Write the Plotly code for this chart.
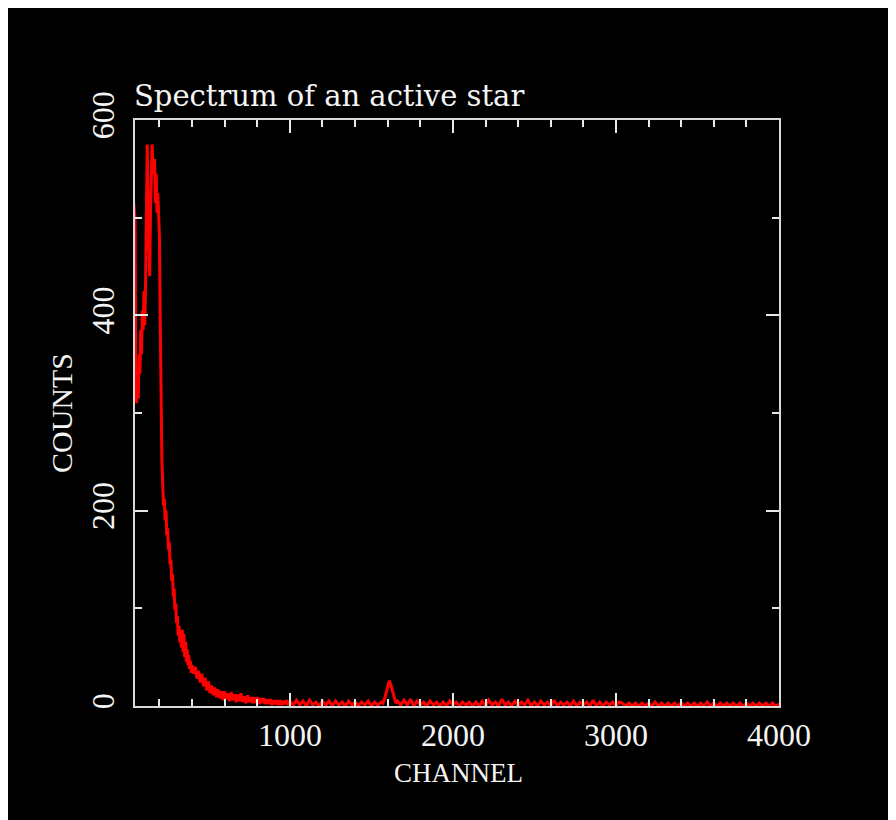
import plotly.graph_objects as go

# ---- data ----
# region A: channels 40..395, step 5
chan_a = [40] + list(range(50, 400, 5))
counts_a = [520,
            500, 330, 310, 345, 315, 360, 340, 385, 360, 405,
            385, 425, 390, 435, 545, 575, 515, 465, 440, 505,
            530, 575, 555, 545, 560, 515, 545, 505, 525, 485,
            480, 390, 290, 250, 228, 205, 212, 190, 200, 175,
            182, 160, 168, 145, 150, 128, 135, 112, 120, 98,
            105, 85, 92, 72, 82, 65, 74, 60, 78, 55,
            74, 50, 66, 45, 58, 42, 52, 38, 46, 34]

# region B: channels 400..990, step 10
chan_b = list(range(400, 1000, 10))
counts_b = [42, 33, 40, 28, 36, 24, 33, 20, 29, 16,
            25, 13, 21, 11, 19, 9, 17, 8, 15, 6,
            15, 7, 13, 5, 14, 6, 12, 4, 12, 5,
            13, 4, 10, 3, 11, 4, 9, 3, 9, 3,
            9, 2, 8, 3, 8, 2, 7, 2, 7, 1,
            6, 2, 6, 1, 6, 1, 5, 2, 6, 1]

# region C: channels 1000..1560, step 20
chan_c = list(range(1000, 1580, 20))
counts_c = [5, 1, 6, 1, 5, 0, 6, 1, 4, 0,
            5, 1, 5, 0, 5, 1, 4, 0, 5, 1,
            4, 0, 4, 1, 5, 0, 4, 1, 4]

# emission line near channel 1610
chan_line = list(range(1570, 1660, 10))
counts_line = [3, 7, 13, 20, 26, 21, 14, 7, 3]

# region D: channels 1660..4000, step 20
chan_d = list(range(1660, 4020, 20))
counts_d = [5, 1, 6, 1, 7, 0, 5, 1,
            4, 0, 5, 1, 4, 0, 4, 0, 5, 1, 4, 0, 4, 1, 4, 0, 4, 0,
            5, 0, 6, 1, 4, 0, 7, 1, 4, 0, 5, 0, 4, 1, 6, 0, 4, 0, 5, 1, 4, 0,
            6, 0, 4, 1, 4, 0, 5, 0, 4, 1, 4, 0, 6, 0, 4, 0, 4, 1, 4, 0, 4,
            3, 0, 3, 0, 3, 0, 3, 0, 3, 0, 4, 0, 3, 0, 3, 0, 3, 0, 3, 0,
            3, 0, 3, 0, 3, 0, 4, 0, 3, 0, 3, 0, 3, 0, 3, 0, 3, 0, 3, 0,
            3, 0, 3, 0, 3, 0, 3, 0, 2]

channels = chan_a + chan_b + chan_c + chan_line + chan_d
counts = counts_a + counts_b + counts_c + counts_line + counts_d

x_ticks = [1000, 2000, 3000, 4000]
y_ticks = [0, 200, 400, 600]

TITLE = "Spectrum of an active star"
XLABEL = "CHANNEL"
YLABEL = "COUNTS"

# ---- figure (page body margin offsets the figure by 8 px) ----
OFF = 8
W, H = 896 - OFF, 820 - OFF
ML, MR, MT, MB = 135 - OFF, 896 - 779, 120 - OFF, 820 - 706
PW, PH = W - ML - MR, H - MT - MB

def px_x(p):
    # p: page pixel x
    return (p - OFF - ML) / PW

def px_y(p):
    # p: page pixel y
    return (H - MB - (p - OFF)) / PH

fig = go.Figure()
fig.add_trace(go.Scatter(x=channels, y=counts, mode="lines",
                         line=dict(color="#ff0000", width=3),
                         hoverinfo="skip", showlegend=False))

axis_common = dict(
    showgrid=False, zeroline=False,
    showline=True, linecolor="#d8d8d8", linewidth=2,
    mirror="ticks", ticks="inside", tickcolor="#e8e8e8", tickwidth=2, ticklen=13,
    tickfont=dict(family="Liberation Serif", size=32, color="#f4f4f4"),
)

fig.update_xaxes(range=[50, 4000], tickvals=x_ticks, ticklabelstandoff=0,
                 minor=dict(dtick=200, tick0=0, ticks="inside", ticklen=7,
                            tickcolor="#e8e8e8", tickwidth=2),
                 **axis_common)
fig.update_yaxes(range=[0, 600], tickvals=y_ticks, tickangle=-90, ticklabelstandoff=6,
                 minor=dict(dtick=100, tick0=0, ticks="inside", ticklen=7,
                            tickcolor="#e8e8e8", tickwidth=2),
                 **axis_common)

fig.add_annotation(text=TITLE, xref="paper", yref="paper",
                   x=px_x(132), y=px_y(115), xanchor="left", yanchor="bottom",
                   showarrow=False,
                   font=dict(family="DejaVu Serif", size=29, color="#f4f4f4"))
fig.add_annotation(text=XLABEL, xref="paper", yref="paper",
                   x=px_x(458), y=px_y(773), xanchor="center", yanchor="middle",
                   showarrow=False,
                   font=dict(family="Liberation Serif", size=27, color="#f4f4f4"))
fig.add_annotation(text=YLABEL, xref="paper", yref="paper",
                   x=px_x(61), y=px_y(413), xanchor="center", yanchor="middle",
                   textangle=-90, showarrow=False,
                   font=dict(family="Liberation Serif", size=30, color="#f4f4f4"))

fig.update_layout(width=W, height=H,
                  margin=dict(l=ML, r=MR, t=MT, b=MB, pad=0),
                  paper_bgcolor="black", plot_bgcolor="black",
                  showlegend=False)

fig.write_html("out.html")
